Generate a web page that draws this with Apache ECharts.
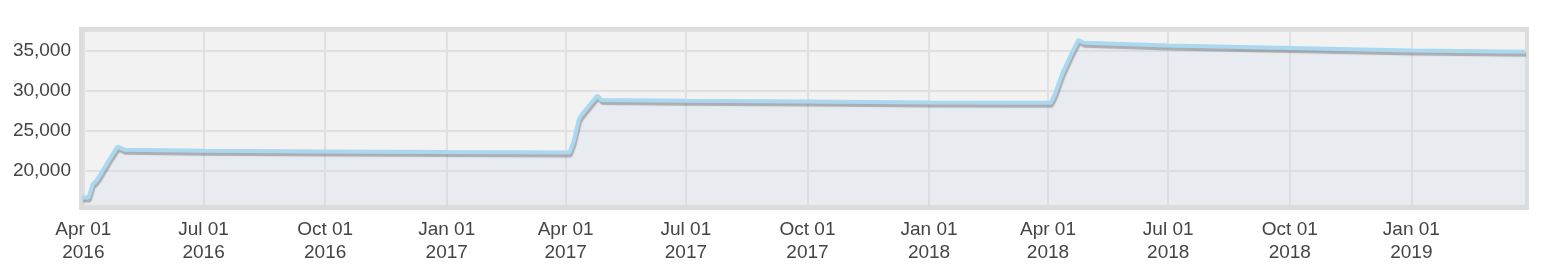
<!DOCTYPE html>
<html>
<head>
<meta charset="utf-8">
<script src="https://cdn.jsdelivr.net/npm/echarts@6/dist/echarts.min.js"></script>
<style>
html,body{margin:0;padding:0;background:#fff;}
#chart{width:1549px;height:274px;}
</style>
</head>
<body>
<div id="chart"></div>
<script>
// ---- data ----
const dates = [
  '2016-03-31','2016-04-05','2016-04-08','2016-04-10','2016-04-13','2016-04-20','2016-04-27','2016-05-02',
  '2016-07-01','2016-10-01','2017-01-01','2017-04-04',
  '2017-04-07','2017-04-11','2017-04-13','2017-04-19','2017-04-25','2017-04-28',
  '2017-07-01','2017-10-01','2018-01-01','2018-04-03',
  '2018-04-06','2018-04-09','2018-04-12','2018-04-18','2018-04-24','2018-04-28',
  '2018-07-01','2018-10-01','2019-01-01','2019-03-28'
];
const values = [
  16650,16650,18300,18600,19250,21200,23000,22620,
  22480,22400,22320,22260,
  23600,26400,26950,28150,29350,28820,
  28720,28620,28500,28460,
  29400,30800,32150,34300,36280,35950,
  35600,35280,34970,34830
];
const tickDates = ['2016-04-01','2016-07-01','2016-10-01','2017-01-01','2017-04-01','2017-07-01',
  '2017-10-01','2018-01-01','2018-04-01','2018-07-01','2018-10-01','2019-01-01'];
const tickLabels = ['Apr 01\n2016','Jul 01\n2016','Oct 01\n2016','Jan 01\n2017','Apr 01\n2017','Jul 01\n2017',
  'Oct 01\n2017','Jan 01\n2018','Apr 01\n2018','Jul 01\n2018','Oct 01\n2018','Jan 01\n2019'];
const xMin = '2016-03-31', xMax = '2019-03-28';
const yMin = 15600, yMax = 37400;

// ---- chart ----
const toTs = d => Date.UTC(+d.slice(0,4), +d.slice(5,7) - 1, +d.slice(8,10));
const tickTimes = tickDates.map(toTs);
const chart = echarts.init(document.getElementById('chart'), null, {renderer: 'canvas'});
const font = '"Liberation Sans", Arial, Helvetica, sans-serif';
chart.setOption({
  animation: false,
  grid: {left: 82, right: 24, top: 31, bottom: 68, show: true, backgroundColor: '#f2f2f2', borderWidth: 0},
  graphic: [{
    type: 'rect', z: 1, silent: true,
    shape: {x: 81, y: 29, width: 1446, height: 179},
    style: {fill: 'none', stroke: '#dcdcdc', lineWidth: 4}
  }],
  xAxis: {
    type: 'value', min: toTs(xMin), max: toTs(xMax),
    axisLine: {show: false},
    axisTick: {show: false, customValues: tickTimes},
    splitLine: {show: true, lineStyle: {color: '#e0e0e0', width: 2}},
    axisLabel: {
      customValues: tickTimes, hideOverlap: false,
      color: '#444', fontSize: 19, fontFamily: font, lineHeight: 23, margin: 12,
      formatter: v => { const i = tickTimes.indexOf(v); return i >= 0 ? tickLabels[i] : ''; }
    }
  },
  yAxis: {
    type: 'value', min: yMin, max: yMax,
    axisLine: {show: false}, axisTick: {show: false},
    splitLine: {show: true, lineStyle: {color: '#e0e0e0', width: 2}},
    axisLabel: {
      showMinLabel: false, showMaxLabel: false,
      color: '#444', fontSize: 19, fontFamily: font, margin: 11,
      formatter: v => (v % 5000 === 0 ? v.toLocaleString('en-US') : '')
    }
  },
  series: [{
    type: 'line', z: 3,
    data: dates.map((d, i) => [toTs(d), values[i]]),
    showSymbol: false, smooth: false,
    lineStyle: {color: '#a9d8ef', width: 4, shadowColor: 'rgba(70,70,80,0.38)', shadowOffsetY: 3, shadowOffsetX: 1, shadowBlur: 1},
    areaStyle: {color: 'rgba(195,215,242,0.28)', origin: 'start'}
  }]
});
</script>
</body>
</html>
